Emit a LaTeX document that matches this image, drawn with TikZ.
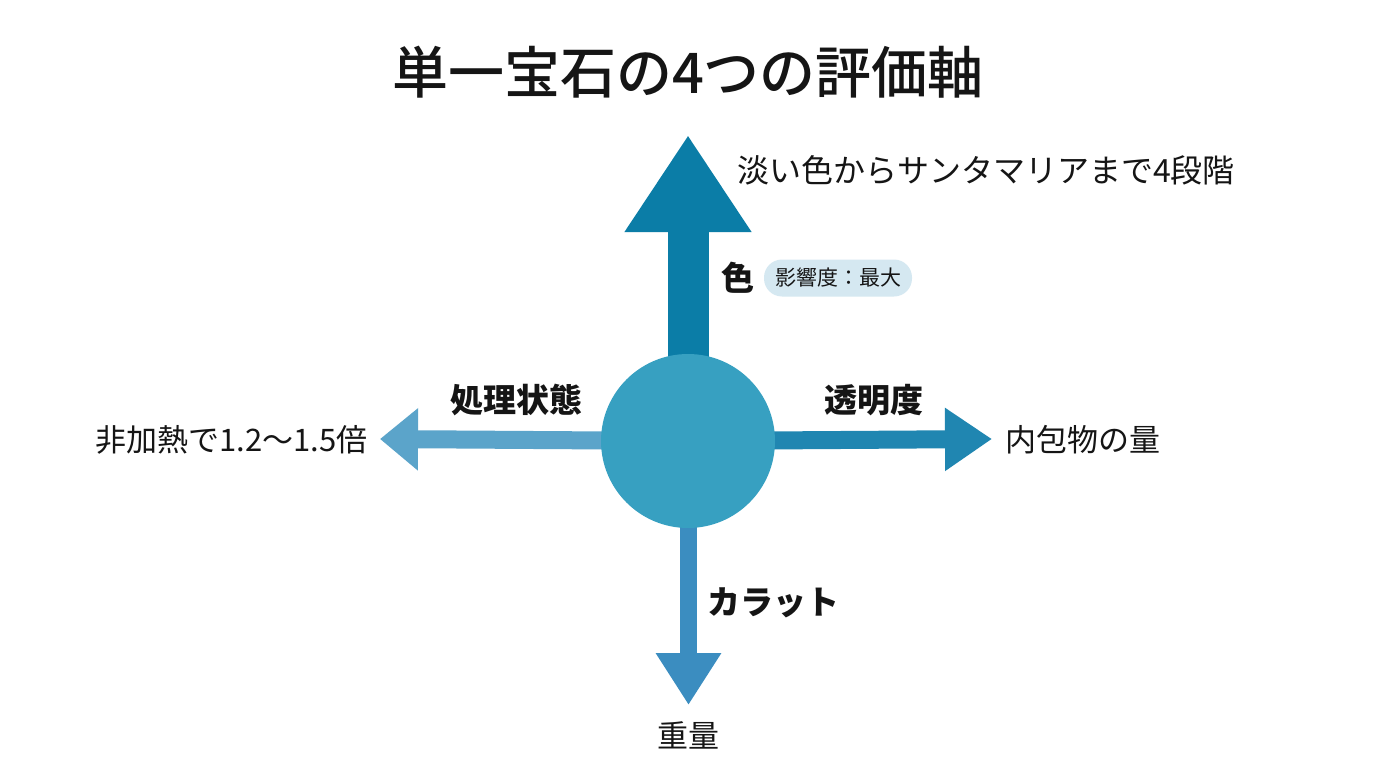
\documentclass[tikz,border=0pt]{standalone}
\usepackage{fontspec}
\setmainfont{Noto Sans CJK JP}
\newfontfamily\medfont{Noto Sans CJK JP Medium}
\usetikzlibrary{arrows.meta,backgrounds}
\definecolor{upc}{HTML}{0B7DA7}
\definecolor{circc}{HTML}{37A0C1}
\definecolor{rightc}{HTML}{2086B1}
\definecolor{leftc}{HTML}{5BA4CA}
\definecolor{downc}{HTML}{3B8DC0}
\definecolor{badgec}{HTML}{D5E8F1}
\definecolor{txt}{HTML}{151515}
\tikzset{
  lbl/.style={inner sep=0pt, text=txt, font=\fontsize{32}{36}\selectfont},
  axislbl/.style={inner sep=0pt, text=txt, font=\bfseries\fontsize{33}{38}\selectfont},
  badge/.style={fill=badgec, rounded corners=18pt, minimum height=37pt, inner xsep=11pt, inner ysep=0pt, text=txt, font=\fontsize{21}{24}\selectfont},
}
\begin{document}
\begin{tikzpicture}[x=1pt,y=-1pt]
\useasboundingbox (0,0) rectangle (1376,768);
\node[inner sep=0pt, text=txt, font=\medfont\fontsize{56}{62}\selectfont] (title) at (688,72) {単一宝石の4つの評価軸};
\node[circle, fill=circc, minimum size=174pt, inner sep=0pt] (c) at (688,441) {};
\coordinate (tu) at (688,135);
\coordinate (tr) at (992,439);
\coordinate (tl) at (380,439);
\coordinate (td) at (688.5,705);
\begin{scope}[on background layer]
\fill[white] (0,0) rectangle (1376,768);
\draw[upc, line width=41pt, -{Triangle[width=120pt,length=97pt]}] (c.center) -- (tu);
\draw[rightc, line width=18pt, -{Triangle[width=60pt,length=47pt]}] (c.center) -- (tr);
\draw[leftc, line width=18pt, -{Triangle[width=60pt,length=38pt]}] (c.center) -- (tl);
\draw[downc, line width=17pt, -{Triangle[width=62pt,length=52pt]}] (688.5,441) -- (td);
\end{scope}
\node[lbl, anchor=west] (updesc) at (737,170) {淡い色からサンタマリアまで4段階};
\node[axislbl, anchor=west] (colorlbl) at (721,278) {色};
\node[badge] (bdg) at (838,278) {影響度：最大};
\node[axislbl] (treat) at (516,400) {処理状態};
\node[axislbl] (clar) at (874,400) {透明度};
\node[lbl, anchor=east, font=\fontsize{31}{36}\selectfont] (leftdesc) at (368,440) {非加熱で1.2〜1.5倍};
\node[lbl, anchor=west, font=\fontsize{31}{36}\selectfont] (rightdesc) at (1005,440) {内包物の量};
\node[axislbl, anchor=west] (carat) at (707,603) {カラット};
\node[lbl, font=\fontsize{31}{36}\selectfont] (weight) at (688,735) {重量};
\end{tikzpicture}
\end{document}
